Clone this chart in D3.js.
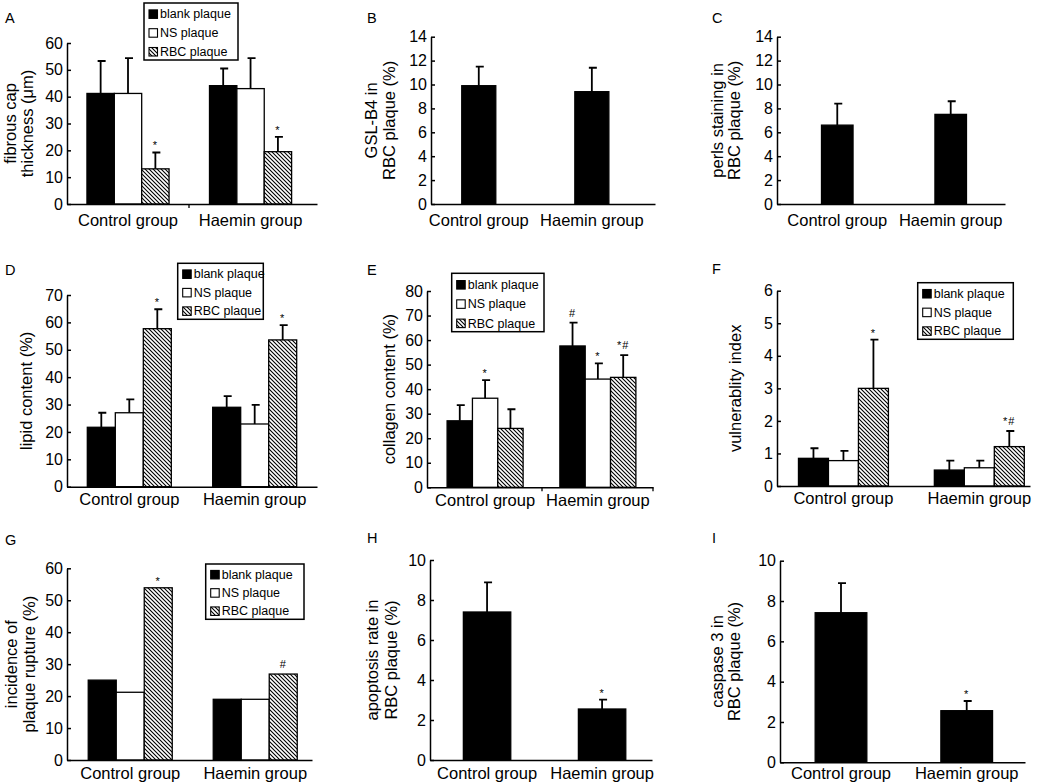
<!DOCTYPE html>
<html><head><meta charset="utf-8">
<script src="https://cdn.jsdelivr.net/npm/d3@7"></script>
<style>
body{margin:0;background:#fff}
text{font-family:"Liberation Sans",Arial,Helvetica,sans-serif;fill:#000}
</style>
</head><body>
<svg id="c" width="1037" height="784"></svg>
<script>
// ---------------- DATA ----------------
const groups = ["Control group", "Haemin group"];
const series = ["blank plaque", "NS plaque", "RBC plaque"];

// A: fibrous cap thickness (µm)   [group][series]
const aMean = [[41.2, 41.2, 13.1], [44.1, 43.0, 19.5]];
const aSD   = [[12.1, 13.2, 6.1], [6.4, 11.4, 5.5]];
const aMarks = [{g: 0, s: 2, t: "*"}, {g: 1, s: 2, t: "*"}];
const aTicks = [0, 10, 20, 30, 40, 50, 60];

// B: GSL-B4 in RBC plaque (%)
const bMean = [[9.9], [9.4]];
const bSD   = [[1.6], [2.0]];
const bTicks = [0, 2, 4, 6, 8, 10, 12, 14];

// C: perls staining in RBC plaque (%)
const cMean = [[6.6], [7.5]];
const cSD   = [[1.8], [1.1]];
const cTicks = [0, 2, 4, 6, 8, 10, 12, 14];

// D: lipid content (%)
const dMean = [[21.7, 27.0, 57.7], [29.0, 22.9, 53.6]];
const dSD   = [[5.3, 4.9, 7.1], [4.1, 7.0, 5.4]];
const dMarks = [{g: 0, s: 2, t: "*"}, {g: 1, s: 2, t: "*"}];
const dTicks = [0, 10, 20, 30, 40, 50, 60, 70];

// E: collagen content (%)
const eMean = [[27.1, 36.3, 24.0], [57.6, 44.1, 44.8]];
const eSD   = [[6.4, 7.4, 7.8], [9.5, 6.4, 9.1]];
const eMarks = [{g: 0, s: 1, t: "*"}, {g: 1, s: 0, t: "#"}, {g: 1, s: 1, t: "*"}, {g: 1, s: 2, t: "*#"}];
const eTicks = [0, 10, 20, 30, 40, 50, 60, 70, 80];

// F: vulnerability index
const fMean = [[0.85, 0.78, 3.0], [0.49, 0.56, 1.21]];
const fSD   = [[0.31, 0.30, 1.5], [0.29, 0.22, 0.48]];
const fMarks = [{g: 0, s: 2, t: "*"}, {g: 1, s: 2, t: "*#"}];
const fTicks = [0, 1, 2, 3, 4, 5, 6];

// G: incidence of plaque rupture (%)
const gMean = [[25.0, 21.2, 53.9], [19.0, 19.0, 26.9]];
const gMarks = [{g: 0, s: 2, t: "*"}, {g: 1, s: 2, t: "#"}];
const gTicks = [0, 10, 20, 30, 40, 50, 60];

// H: apoptosis rate in RBC plaque (%)
const hMean = [[7.4], [2.55]];
const hSD   = [[1.48], [0.47]];
const hMarks = [{g: 1, s: 0, t: "*"}];
const hTicks = [0, 2, 4, 6, 8, 10];

// I: caspase 3 in RBC plaque (%)
const iMean = [[7.42], [2.56]];
const iSD   = [[1.47], [0.48]];
const iMarks = [{g: 1, s: 0, t: "*"}];
const iTicks = [0, 2, 4, 6, 8, 10];

// ---------------- PANELS ----------------
const panels = [
  {id: "A", mean: aMean, sd: aSD, marks: aMarks, ticks: aTicks, title: ["fibrous cap", "thickness (\u03bcm)"], legend: true},
  {id: "B", mean: bMean, sd: bSD, marks: [], ticks: bTicks, title: ["GSL-B4 in", "RBC plaque (%)"]},
  {id: "C", mean: cMean, sd: cSD, marks: [], ticks: cTicks, title: ["perls staining in", "RBC plaque (%)"]},
  {id: "D", mean: dMean, sd: dSD, marks: dMarks, ticks: dTicks, title: ["lipid content (%)"], legend: true},
  {id: "E", mean: eMean, sd: eSD, marks: eMarks, ticks: eTicks, title: ["collagen content (%)"], legend: true},
  {id: "F", mean: fMean, sd: fSD, marks: fMarks, ticks: fTicks, title: ["vulnerablity index"], legend: true},
  {id: "G", mean: gMean, sd: null, marks: gMarks, ticks: gTicks, title: ["incidence of", "plaque rupture (%)"], legend: true},
  {id: "H", mean: hMean, sd: hSD, marks: hMarks, ticks: hTicks, title: ["apoptosis rate in", "RBC plaque (%)"]},
  {id: "I", mean: iMean, sd: iSD, marks: iMarks, ticks: iTicks, title: ["caspase 3 in", "RBC plaque (%)"]}
];

// ---------------- LAYOUT ----------------
const layout = {
  A: {letter: [5, 23], x0: 67, x1: 317, y0: 204, yTop: 43, pi: 0.33, po: 0.185, al: 0.44, tOff: [-51, -34], lp: 10, lg: {x: 144, y: 3, w: 94, h: 57}, xt: [189]},
  B: {letter: [367, 23], x0: 431, x1: 655, y0: 204, yTop: 36.7, pi: 0.699, po: 0.34, al: 0.40, tOff: [-54, -36], lp: 10},
  C: {letter: [712, 23], x0: 777, x1: 1005, y0: 204, yTop: 36.7, pi: 0.722, po: 0.366, al: 0.536, tOff: [-54, -37], lp: 10},
  D: {letter: [5, 275], x0: 67, x1: 317, y0: 486.7, yTop: 295, pi: 0.33, po: 0.162, al: 0.5, tOff: [-35], lp: 6.5, lg: {x: 177.7, y: 263.3, w: 85.6, h: 56}},
  E: {letter: [367, 275], x0: 427, x1: 653, y0: 487.3, yTop: 291, pi: 0.326, po: 0.165, al: 0.54, tOff: [-32], lp: 6.5, lg: {x: 451.7, y: 273.3, w: 92.3, h: 58.4}, xt: [542, 653]},
  F: {letter: [712, 274], x0: 777, x1: 1030, y0: 486, yTop: 290.7, pi: 0.338, po: 0.1, al: 0.79, tOff: [-36], lp: 6.5, lg: {x: 917.7, y: 282.7, w: 95.6, h: 56.6}},
  G: {letter: [5, 545], x0: 67, x1: 312, y0: 760, yTop: 568.3, pi: 0.328, po: 0.144, al: 0.59, tOff: [-50, -32], lp: 7, lg: {x: 205.7, y: 564, w: 98.3, h: 55.3}},
  H: {letter: [367, 543], x0: 430, x1: 652, y0: 760, yTop: 560, pi: 0.588, po: 0.259, al: 0.56, tOff: [-52, -33], lp: 7},
  I: {letter: [712, 543], x0: 780, x1: 1025, y0: 762.3, yTop: 560.7, pi: 0.589, po: 0.269, al: 0.52, tOff: [-57, -40], lp: 5}
};

const svg = d3.select("#c");
svg.append("rect").attr("width", 1037).attr("height", 784).attr("fill", "#fff");

const defs = svg.append("defs");
const pat = defs.append("pattern").attr("id", "hatch")
  .attr("patternUnits", "userSpaceOnUse").attr("width", 4).attr("height", 4);
pat.append("rect").attr("width", 4).attr("height", 4).attr("fill", "#fff");
pat.append("path").attr("d", "M0,0L4,4M-1,3L1,5M3,-1L5,1")
  .attr("stroke", "#000").attr("stroke-width", 1.1);

const fills = ["#000", "#fff", "url(#hatch)"];
const FONT = '"Liberation Sans",Arial,Helvetica,sans-serif';

panels.forEach(p => {
  const Ly = layout[p.id];
  const g = svg.append("g");
  const nS = p.mean[0].length;

  const y = d3.scaleLinear()
    .domain([0, d3.max(p.ticks)])
    .range([Ly.y0, Ly.yTop]);
  const x = d3.scaleBand().domain(groups).range([Ly.x0, Ly.x1])
    .paddingInner(Ly.pi).paddingOuter(Ly.po).align(Ly.al);
  const xs = d3.scaleBand().domain(d3.range(nS)).range([0, x.bandwidth()]);

  // panel letter
  g.append("text").attr("x", Ly.letter[0]).attr("y", Ly.letter[1])
    .attr("font-size", 14.5).text(p.id);

  // bars
  const recs = [];
  groups.forEach((gr, gi) => {
    p.mean[gi].forEach((v, si) => {
      recs.push({gr, gi, si, v, sd: p.sd ? p.sd[gi][si] : null});
    });
  });
  const cx = d => x(d.gr) + xs(d.si) + xs.bandwidth() / 2;

  g.selectAll("rect.bar").data(recs).enter().append("rect")
    .attr("class", "bar")
    .attr("x", d => x(d.gr) + xs(d.si))
    .attr("width", xs.bandwidth())
    .attr("y", d => y(d.v))
    .attr("height", d => y(0) - y(d.v))
    .attr("fill", d => nS === 1 ? "#000" : fills[d.si])
    .attr("stroke", "#000").attr("stroke-width", 1.3);

  // error bars
  const eb = recs.filter(d => d.sd != null);
  g.selectAll("path.err").data(eb).enter().append("path")
    .attr("d", d => {
      const c = cx(d), t = y(d.v + d.sd);
      return `M${c},${y(d.v)}V${t}M${c - 3},${t}H${c + 5}`;
    })
    .attr("stroke", "#000").attr("stroke-width", 1.8).attr("fill", "none");

  // significance marks
  g.selectAll("text.mk").data(p.marks).enter().append("text")
    .attr("x", d => cx({gr: groups[d.g], si: d.s}))
    .attr("y", d => {
      const v = p.mean[d.g][d.s] + (p.sd ? p.sd[d.g][d.s] : 0);
      return y(v) - (d.t.includes("#") ? 6 : 3);
    })
    .attr("text-anchor", "middle").attr("font-size", 11)
    .attr("letter-spacing", 1)
    .text(d => d.t);

  // y axis
  const ya = g.append("g").attr("transform", `translate(${Ly.x0},0)`)
    .call(d3.axisLeft(y).tickValues(p.ticks).tickFormat(d3.format("d"))
      .tickSize(-4).tickSizeOuter(0).tickPadding(4));
  ya.select(".domain").attr("stroke-width", 1.5);
  ya.selectAll(".tick line").attr("stroke-width", 1.5);
  ya.selectAll(".tick text").attr("font-size", 16)
    .attr("font-family", FONT).attr("fill", "#000");

  // x axis
  const xa = g.append("g").attr("transform", `translate(0,${Ly.y0})`)
    .call(d3.axisBottom(x).tickSize(0).tickSizeOuter(0).tickPadding(Ly.lp));
  xa.select(".domain").attr("stroke-width", 1.5);
  xa.selectAll(".tick text").attr("font-size", 16.5)
    .attr("font-family", FONT).attr("fill", "#000");
  if (Ly.xt) {
    Ly.xt.forEach(t => {
      g.append("line").attr("x1", t).attr("x2", t).attr("y1", Ly.y0).attr("y2", Ly.y0 + 4)
        .attr("stroke", "#000").attr("stroke-width", 1.3);
    });
  }

  // y title
  const ym = (Ly.y0 + Ly.yTop) / 2;
  p.title.forEach((line, li) => {
    const tx = Ly.x0 + Ly.tOff[li];
    g.append("text")
      .attr("transform", `translate(${tx},${ym}) rotate(-90)`)
      .attr("text-anchor", "middle").attr("font-size", 16.5)
      .text(line);
  });

  // legend
  if (p.legend && Ly.lg) {
    const lg = Ly.lg;
    const lgG = g.append("g");
    lgG.append("rect").attr("x", lg.x).attr("y", lg.y).attr("width", lg.w).attr("height", lg.h)
      .attr("fill", "#fff").attr("stroke", "#000").attr("stroke-width", 1.5);
    series.forEach((s, i) => {
      const by = lg.y + lg.h * (0.27 + 0.33 * i);
      lgG.append("rect").attr("x", lg.x + 5).attr("y", by - 8.5).attr("width", 8.5).attr("height", 8.5)
        .attr("fill", fills[i]).attr("stroke", "#000").attr("stroke-width", 1.1);
      lgG.append("text").attr("x", lg.x + 16).attr("y", by)
        .attr("font-size", 12.5).text(s);
    });
  }
});
</script>
</body></html>
